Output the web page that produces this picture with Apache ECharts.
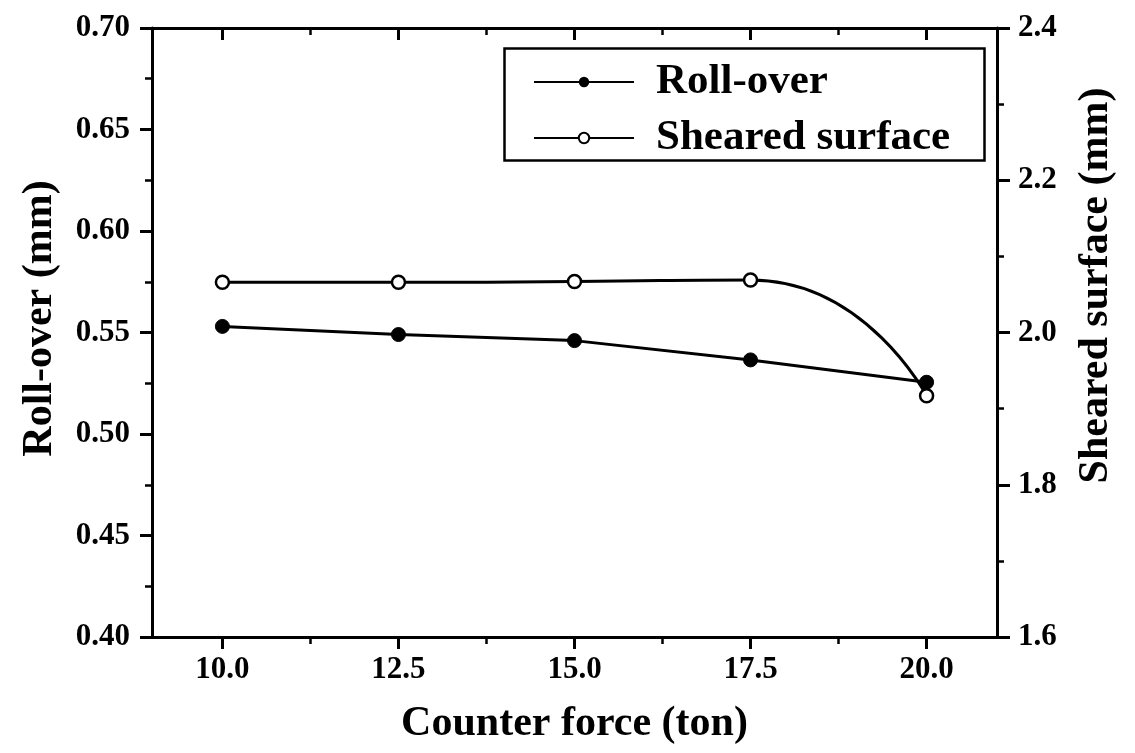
<!DOCTYPE html>
<html>
<head>
<meta charset="utf-8">
<script src="https://cdn.jsdelivr.net/npm/echarts@6/dist/echarts.min.js"></script>
<style>html,body{margin:0;padding:0;background:#fff;}#c{width:1135px;height:753px;}</style>
</head>
<body>
<div id="c"></div>
<script>
const counterForce = [10.0, 12.5, 15.0, 17.5, 20.0];
const rollOver = [0.553, 0.549, 0.546, 0.5365, 0.5255];
const shearedSurface = [2.066, 2.066, 2.067, 2.069, 1.917];
const xMajorTicks = [10.0, 12.5, 15.0, 17.5, 20.0];
const xMinorTicks = [11.25, 13.75, 16.25, 18.75];

const FONT = '"Liberation Serif", "Times New Roman", serif';
const chart = echarts.init(document.getElementById('c'));
const pair = (xs, ys) => xs.map((x, i) => [x, ys[i]]);
const lbl = {fontFamily: FONT, fontWeight: 'bold', fontSize: 31, color: '#000'};
const nm = {fontFamily: FONT, fontWeight: 'bold', fontSize: 42, color: '#000'};
const line = {lineStyle: {color: '#000', width: 3}};
const majT = {width: 3, color: '#000'};
const minT = {width: 2.5, color: '#000'};

chart.setOption({
  animation: false,
  backgroundColor: '#fff',
  grid: {left: 152, right: 138, top: 28, bottom: 116},
  graphic: [{type: 'rect', left: 502, top: 46, shape: {width: 480, height: 112},
             style: {fill: 'none', stroke: '#000', lineWidth: 2.5}, z: 100}],
  legend: {
    left: 533, top: 60,
    orient: 'vertical',
    itemWidth: 100, itemHeight: 13, itemGap: 12,
    padding: 0,
    textStyle: {fontFamily: FONT, fontWeight: 'bold', fontSize: 43, lineHeight: 44, color: '#000',
                padding: [0, 0, 0, 17]},
    data: ['Roll-over', 'Sheared surface']
  },
  xAxis: [
    {type: 'value', min: 9, max: 21, position: 'bottom',
     name: 'Counter force (ton)', nameLocation: 'middle', nameGap: 66, nameTextStyle: nm,
     axisLine: line, splitLine: {show: false},
     axisTick: {customValues: xMajorTicks, length: 12, lineStyle: majT},
     axisLabel: {customValues: xMajorTicks, formatter: v => v.toFixed(1), margin: 17, ...lbl}},
    {type: 'value', min: 9, max: 21, position: 'bottom',
     axisLine: {show: false}, splitLine: {show: false}, axisLabel: {show: false},
     axisTick: {customValues: xMinorTicks, length: 7, lineStyle: minT}},
    {type: 'value', min: 9, max: 21, position: 'top',
     axisLine: line, splitLine: {show: false}, axisLabel: {show: false},
     axisTick: {customValues: xMajorTicks, inside: true, length: 12, lineStyle: majT}},
    {type: 'value', min: 9, max: 21, position: 'top',
     axisLine: {show: false}, splitLine: {show: false}, axisLabel: {show: false},
     axisTick: {customValues: xMinorTicks, inside: true, length: 7, lineStyle: minT}}
  ],
  yAxis: [
    {type: 'value', min: 0.4, max: 0.7, interval: 0.05, position: 'left',
     name: 'Roll-over (mm)', nameLocation: 'middle', nameGap: 91,
     nameTextStyle: {...nm, padding: [0, 0, 0, 28]},
     axisLine: {show: true, ...line}, splitLine: {show: false},
     axisTick: {show: true, length: 12, lineStyle: majT},
     minorTick: {show: true, splitNumber: 2, length: 7, lineStyle: minT},
     axisLabel: {formatter: v => v.toFixed(2), margin: 22, ...lbl}},
    {type: 'value', min: 1.6, max: 2.4, interval: 0.2, position: 'right',
     name: 'Sheared surface (mm)', nameLocation: 'middle', nameGap: 78, nameRotate: 90,
     nameTextStyle: {...nm, padding: [0, 0, 0, 94]},
     axisLine: {show: true, ...line}, splitLine: {show: false},
     axisTick: {show: true, length: 13, lineStyle: majT},
     minorTick: {show: true, splitNumber: 2, length: 7, lineStyle: minT},
     axisLabel: {formatter: v => v.toFixed(1), margin: 21, ...lbl}}
  ],
  series: [
    {name: 'Roll-over', type: 'line', xAxisIndex: 0, yAxisIndex: 0,
     data: pair(counterForce, rollOver), smooth: false,
     symbol: 'circle', symbolSize: 14,
     itemStyle: {color: '#000', borderColor: '#000'},
     lineStyle: {color: '#000', width: 3}},
    {name: 'Sheared surface', type: 'line', xAxisIndex: 0, yAxisIndex: 1,
     data: pair(counterForce, shearedSurface), smooth: 0.6,
     symbol: 'circle', symbolSize: 13,
     itemStyle: {color: '#fff', borderColor: '#000', borderWidth: 2.5},
     lineStyle: {color: '#000', width: 3}}
  ]
});
</script>
</body>
</html>
